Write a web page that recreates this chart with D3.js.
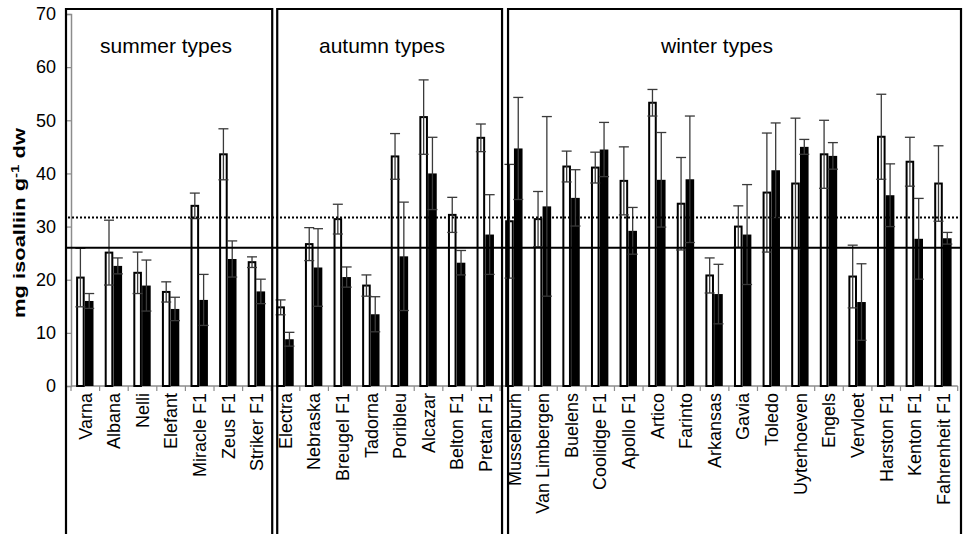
<!DOCTYPE html>
<html>
<head>
<meta charset="utf-8">
<script src="https://cdn.jsdelivr.net/npm/d3@7"></script>
<style>
  html, body { margin: 0; padding: 0; background: #fff; }
  svg { display: block; font-family: "Liberation Sans", Arial, sans-serif; }
</style>
</head>
<body>
<svg id="chart" width="963" height="534"></svg>
<script>
// Onion cultivars grouped by type
const summerTypes = ["Varna", "Albana", "Nelli", "Elefant", "Miracle F1", "Zeus F1", "Striker F1"];
const autumnTypes = ["Electra", "Nebraska", "Breugel F1", "Tadorna", "Poribleu", "Alcazar", "Belton F1", "Pretan F1"];
const winterTypes = ["Musselburh", "Van Limbergen", "Buelens", "Coolidge F1", "Apollo F1", "Artico", "Farinto",
  "Arkansas", "Gavia", "Toledo", "Uyterhoeven", "Engels", "Vervloet", "Harston F1", "Kenton F1", "Fahrenheit F1"];
const groupTitles = ["summer types", "autumn types", "winter types"];

// Isoalliin content (mg g-1 dw): open bars and filled bars, with their standard deviations
const openValues = [20.4, 25.1, 21.3, 17.7, 33.9, 43.6, 23.3,
  14.8, 26.7, 31.4, 18.9, 43.2, 50.6, 32.2, 46.7,
  31.0, 31.4, 41.3, 41.1, 38.6, 53.3, 34.3, 20.8, 30.0, 36.4, 38.1, 43.6, 20.6, 46.9, 42.2, 38.1];
const openErrors = [5.5, 6.1, 3.9, 1.9, 2.4, 4.8, 1.0,
  1.4, 3.1, 2.8, 2.0, 4.3, 7.0, 3.3, 2.6,
  10.7, 5.2, 2.9, 2.9, 6.4, 2.5, 8.7, 3.3, 3.9, 11.2, 12.3, 6.4, 5.9, 8.0, 4.6, 7.1];
const filledValues = [16.0, 22.6, 18.9, 14.5, 16.2, 23.9, 17.8,
  8.8, 22.3, 20.5, 13.5, 24.4, 40.0, 23.2, 28.5,
  44.7, 33.8, 35.4, 44.5, 29.2, 38.8, 38.9, 17.3, 28.5, 40.6, 45.0, 43.3, 15.8, 35.9, 27.7, 27.8];
const filledErrors = [1.4, 1.5, 4.8, 2.2, 4.8, 3.4, 2.3,
  1.3, 7.3, 1.9, 3.3, 10.2, 6.8, 2.3, 7.5,
  9.6, 16.9, 5.3, 5.1, 4.4, 8.9, 11.9, 5.6, 9.4, 8.9, 1.4, 2.5, 7.2, 5.9, 7.6, 1.1];

// Horizontal reference levels
const solidLevel = 26.0;
const dottedLevel = 31.7;
const yTicks = [0, 10, 20, 30, 40, 50, 60, 70];

const categories = summerTypes.concat(autumnTypes, winterTypes);
const rows = categories.map((name, i) => ({
  name, open: openValues[i], openErr: openErrors[i], filled: filledValues[i], filledErr: filledErrors[i]
}));

const svg = d3.select("#chart");
const W = 963;

const x = d3.scaleBand().domain(categories).range([71, 957.7]).paddingInner(0).paddingOuter(0);
const y = d3.scaleLinear().domain([0, 70]).range([386, 14]);
const barW = 8.6;
const cx = d => x(d) + x.bandwidth() / 2;

// Y axis
const yAxis = d3.axisLeft(y).tickValues(yTicks).tickSize(5).tickPadding(10).tickFormat(d3.format("d"));
const gy = svg.append("g").attr("transform", "translate(71,0)").call(yAxis);
gy.select(".domain").attr("stroke", "#8c8c8c").attr("stroke-width", 1.5);
gy.selectAll(".tick line").attr("stroke", "#8c8c8c").attr("stroke-width", 1.2);
gy.selectAll(".tick text").attr("font-size", 18).attr("fill", "#000")
  .attr("font-family", "'Liberation Sans', Arial, sans-serif");

// X axis: ticks sit on the category boundaries
const gx = svg.append("g").attr("transform", "translate(0,386)");
gx.append("line").attr("x1", x.range()[0]).attr("x2", x.range()[1])
  .attr("stroke", "#8c8c8c").attr("stroke-width", 1.5);
gx.selectAll("line.tick").data(categories.concat(["__end"])).join("line")
  .attr("class", "tick")
  .attr("x1", (d, i) => x.range()[0] + i * x.bandwidth())
  .attr("x2", (d, i) => x.range()[0] + i * x.bandwidth())
  .attr("y1", 0).attr("y2", 5)
  .attr("stroke", "#8c8c8c").attr("stroke-width", 1.2);
gx.selectAll("text").data(categories).join("text")
  .attr("transform", d => `translate(${cx(d)},7) rotate(-90)`)
  .attr("text-anchor", "end").attr("dy", "0.35em")
  .attr("font-size", 18).attr("fill", "#000")
  .text(d => d);

// Y axis title
svg.append("text")
  .attr("transform", "translate(19,223) rotate(-90)")
  .attr("text-anchor", "middle").attr("dy", "0.35em")
  .attr("font-size", 16).attr("font-weight", "bold")
  .attr("textLength", 190).attr("lengthAdjust", "spacingAndGlyphs")
  .html('mg isoalliin g<tspan dy="-6" font-size="11">-1</tspan><tspan dy="6"> dw</tspan>');

// Bars
const bars = svg.append("g");
bars.selectAll("rect.open").data(rows).join("rect")
  .attr("class", "open")
  .attr("x", d => cx(d.name) - 9.2 + 1)
  .attr("width", barW - 2)
  .attr("y", d => y(d.open))
  .attr("height", d => y(0) - y(d.open))
  .attr("fill", "#fff").attr("stroke", "#000").attr("stroke-width", 2);
bars.selectAll("rect.filled").data(rows).join("rect")
  .attr("class", "filled")
  .attr("x", d => cx(d.name) - 0.4)
  .attr("width", barW)
  .attr("y", d => y(d.filled))
  .attr("height", d => y(0) - y(d.filled))
  .attr("fill", "#000");

// Error bars
function errorBars(key, errKey, offset) {
  const g = svg.append("g").attr("stroke", "#3a3a3a").attr("stroke-width", 1.3);
  const pos = d => cx(d.name) + offset;
  g.selectAll("line.stem").data(rows).join("line")
    .attr("x1", pos).attr("x2", pos)
    .attr("y1", d => y(d[key] + d[errKey])).attr("y2", d => y(d[key] - d[errKey]));
  g.selectAll("line.cap-hi").data(rows).join("line")
    .attr("x1", d => pos(d) - 5).attr("x2", d => pos(d) + 5)
    .attr("y1", d => y(d[key] + d[errKey])).attr("y2", d => y(d[key] + d[errKey]));
  g.selectAll("line.cap-lo").data(rows).join("line")
    .attr("x1", d => pos(d) - 5).attr("x2", d => pos(d) + 5)
    .attr("y1", d => y(d[key] - d[errKey])).attr("y2", d => y(d[key] - d[errKey]));
}
errorBars("open", "openErr", -4.9);
errorBars("filled", "filledErr", 3.9);

// Reference levels
svg.append("line")
  .attr("x1", 65).attr("x2", W - 2)
  .attr("y1", y(solidLevel)).attr("y2", y(solidLevel))
  .attr("stroke", "#000").attr("stroke-width", 2);
svg.append("line")
  .attr("x1", 68).attr("x2", W - 2)
  .attr("y1", y(dottedLevel)).attr("y2", y(dottedLevel))
  .attr("stroke", "#000").attr("stroke-width", 2).attr("stroke-dasharray", "2,2");

// Group frames
const groups = [summerTypes, autumnTypes, winterTypes];
const frameLeftPad = [5, -6, -8];
const frameRightPad = [1, 2, null];
const frames = groups.map((g, i) => {
  const left = x(g[0]) - frameLeftPad[i];
  const right = frameRightPad[i] === null ? W - 2 : x(g[g.length - 1]) + x.bandwidth() + frameRightPad[i];
  return { left, right, title: groupTitles[i] };
});
svg.append("g").selectAll("path").data(frames).join("path")
  .attr("d", f => `M${f.left},540 V9 H${f.right} V540`)
  .attr("fill", "none").attr("stroke", "#000").attr("stroke-width", 2.2);

// Group titles
const titleX = [166, 382, 717];
svg.append("g").selectAll("text").data(frames).join("text")
  .attr("x", (f, i) => titleX[i]).attr("y", 53)
  .attr("text-anchor", "middle")
  .attr("font-size", 21).attr("fill", "#000")
  .text(f => f.title);
</script>
</body>
</html>
